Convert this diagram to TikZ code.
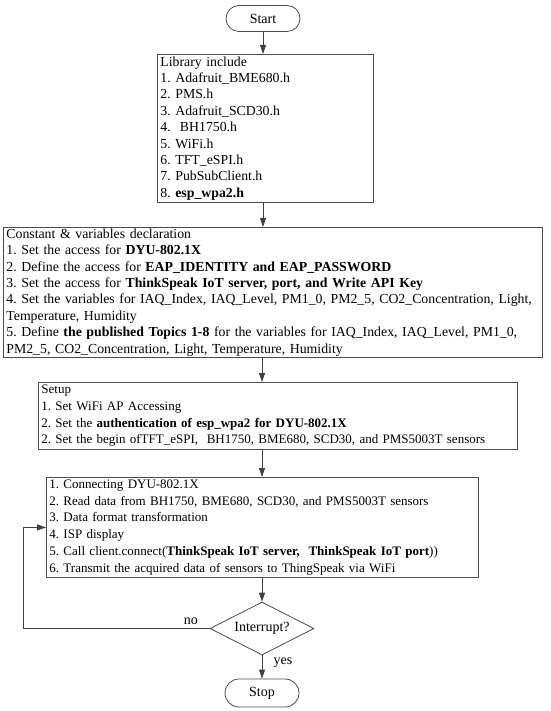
\documentclass[tikz,border=0pt]{standalone}
\usepackage{fontspec}
\setmainfont{Liberation Serif}
\usetikzlibrary{shapes.geometric, shapes.misc, arrows.meta}
\frenchspacing

\begin{document}
\begin{tikzpicture}[x=1pt, y=1pt,
	every node/.style={font=\fontsize{14}{16.5}\selectfont},
	big/.style={font=\fontsize{13.8}{16.4}\selectfont},
	small/.style={font=\fontsize{13}{16.7}\selectfont},
	terminal/.style={rounded rectangle, draw=black!70, thick, minimum width=74pt, minimum height=26pt, inner sep=0pt},
	block/.style={rectangle, draw=black!70, thick, anchor=north west, align=left, inner xsep=3pt, inner ysep=1pt},
	decision/.style={diamond, draw=black!70, thick, aspect=2, minimum width=104pt, minimum height=53pt, inner sep=0pt},
	flow/.style={draw=black!75, thick, -{Triangle[length=9pt, width=6pt]}}
]
\useasboundingbox (0,0) rectangle (550,-711);

\node[terminal] (start) at (263,-18.5) {Start};

\node[block, big, text width=210pt, minimum height=148pt] (lib) at (157,-54) {Library include\\%
	1. Adafruit\_BME680.h\\%
	2. PMS.h\\%
	3. Adafruit\_SCD30.h\\%
	4.~ BH1750.h\\%
	5. WiFi.h\\%
	6. TFT\_eSPI.h\\%
	7. PubSubClient.h\\%
	8. \textbf{esp\_wpa2.h}};

\node[block, big, text width=533pt, minimum height=130pt] (decl) at (3,-227) {Constant \& variables declaration\\%
	1. Set the access for \textbf{DYU-802.1X}\\%
	2. Define the access for \textbf{EAP\_IDENTITY and EAP\_PASSWORD}\\%
	3. Set the access for \textbf{ThinkSpeak IoT server, port, and Write API Key}\\%
	4. Set the variables for IAQ\_Index, IAQ\_Level, PM1\_0, PM2\_5, CO2\_Concentration, Light,\\%
	Temperature, Humidity\\%
	5. Define \textbf{the published Topics 1-8} for the variables for IAQ\_Index, IAQ\_Level, PM1\_0,\\%
	PM2\_5, CO2\_Concentration, Light, Temperature, Humidity};

\node[block, small, text width=473pt, minimum height=67pt] (setup) at (38,-382) {Setup\\%
	1. Set WiFi AP Accessing\\%
	2. Set the \textbf{authentication of esp\_wpa2 for DYU-802.1X}\\%
	2. Set the begin ofTFT\_eSPI,~ BH1750, BME680, SCD30, and PMS5003T sensors};

\node[block, small, text width=426pt, minimum height=100pt] (main) at (46,-477) {1. Connecting DYU-802.1X\\%
	2. Read data from BH1750, BME680, SCD30, and PMS5003T sensors\\%
	3. Data format transformation\\%
	4. ISP display\\%
	5. Call client.connect(\textbf{ThinkSpeak IoT server,~ ThinkSpeak IoT port}))\\%
	6. Transmit the acquired data of sensors to ThingSpeak via WiFi};

\node[decision] (cond) at (262,-628.5) {Interrupt?};

\node[terminal, minimum height=28pt] (stop) at (262,-693) {Stop};

\coordinate (loop) at (23,-628.5);

\draw[flow] (start.south) -- (start.south |- lib.north);
\draw[flow] (start |- lib.south) -- (start |- decl.north);
\draw[flow] (cond |- decl.south) -- (cond |- setup.north);
\draw[flow] (cond |- setup.south) -- (cond |- main.north);
\draw[flow] (cond |- main.south) -- (cond.north);
\draw[flow] (cond.south) -- node[right, xshift=8pt, pos=0.3] {yes} (stop.north);
\draw[flow] (cond.west) -- node[above, pos=0.1] {no} (loop) |- (main.west);
\end{tikzpicture}
\end{document}
